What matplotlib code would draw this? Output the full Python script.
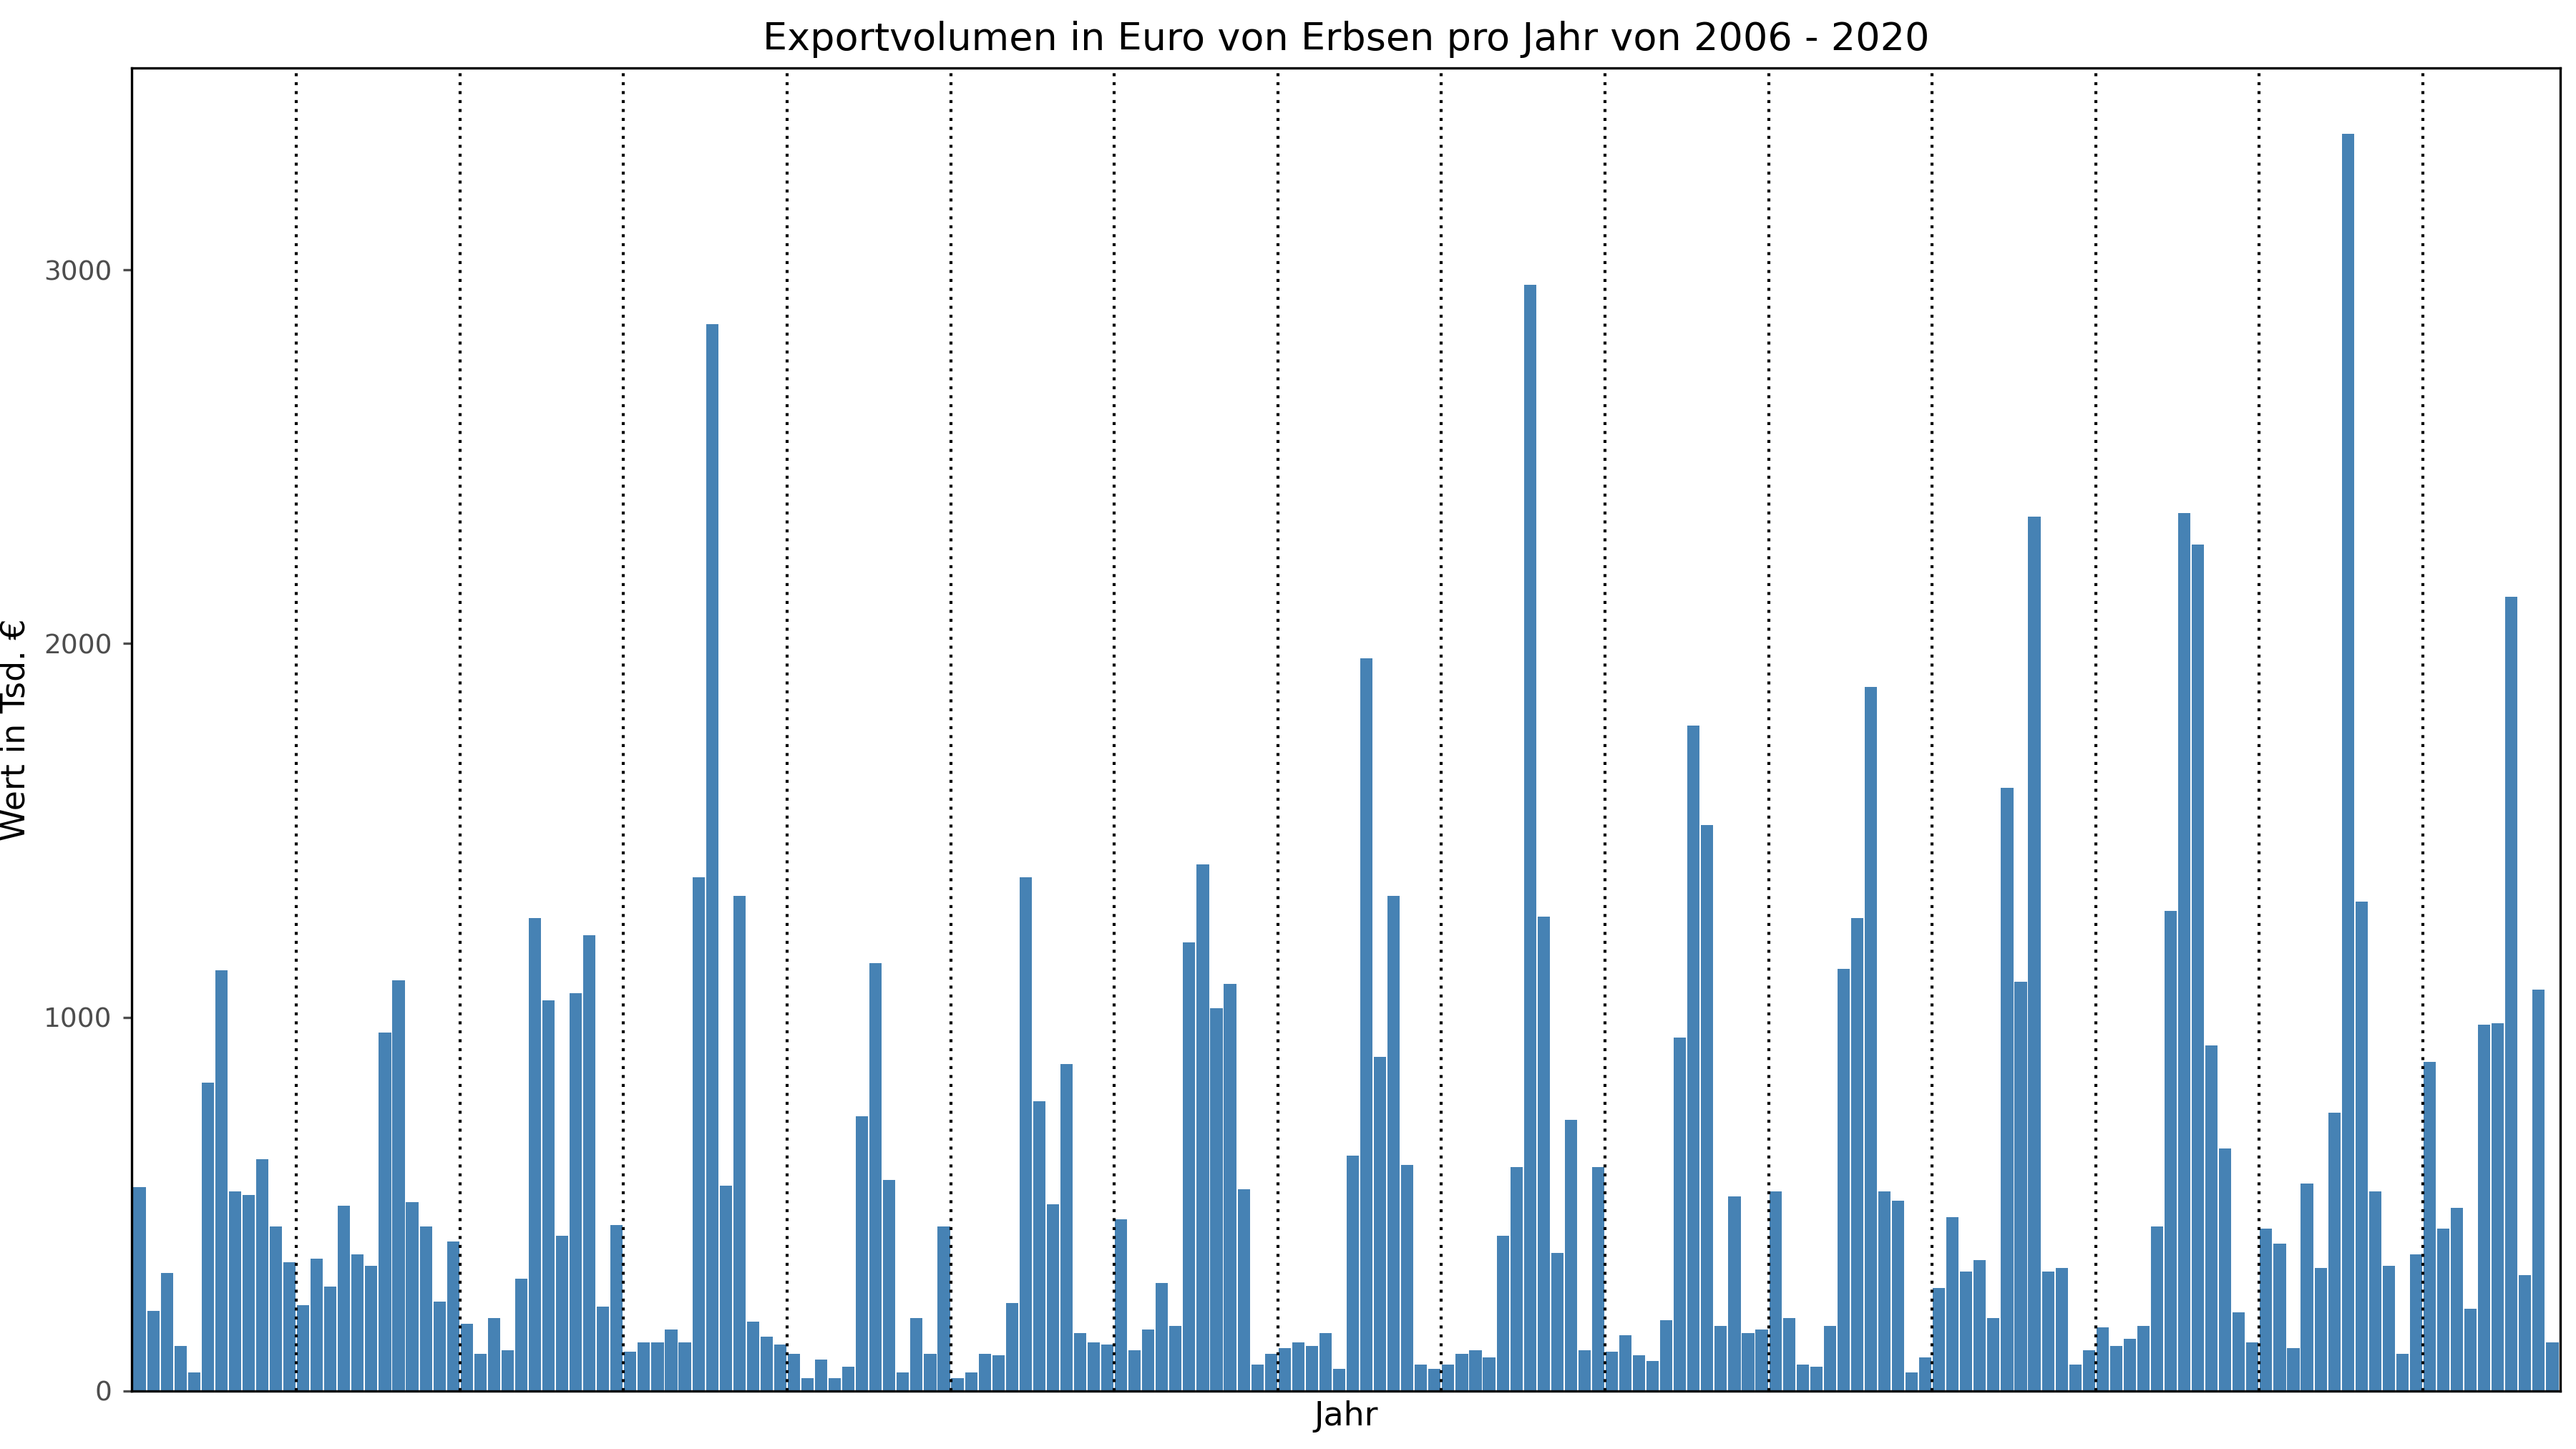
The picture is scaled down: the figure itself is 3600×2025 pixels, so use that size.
import numpy as np
import matplotlib.pyplot as plt

# monthly export values in Tsd. EUR, 2006 - 2020
years = list(range(2006, 2021))
values = {
    2006: [545, 215, 315, 120, 50, 825, 1125, 535, 525, 620, 440, 345],
    2007: [230, 355, 280, 495, 365, 335, 960, 1100, 505, 440, 240, 400],
    2008: [180, 100, 195, 110, 300, 1265, 1045, 415, 1065, 1220, 225, 445],
    2009: [105, 130, 130, 165, 130, 1375, 2855, 550, 1325, 185, 145, 125],
    2010: [100, 35, 85, 35, 65, 735, 1145, 565, 50, 195, 100, 440],
    2011: [35, 50, 100, 95, 235, 1375, 775, 500, 875, 155, 130, 125],
    2012: [460, 110, 165, 290, 175, 1200, 1410, 1025, 1090, 540, 70, 100],
    2013: [115, 130, 120, 155, 60, 630, 1960, 895, 1325, 605, 70, 60],
    2014: [70, 100, 110, 90, 415, 600, 2960, 1270, 370, 725, 110, 600],
    2015: [105, 150, 95, 80, 190, 945, 1780, 1515, 175, 520, 155, 165],
    2016: [535, 195, 70, 65, 175, 1130, 1265, 1885, 535, 510, 50, 90],
    2017: [275, 465, 320, 350, 195, 1615, 1095, 2340, 320, 330, 70, 110],
    2018: [170, 120, 140, 175, 440, 1285, 2350, 2265, 925, 650, 210, 130],
    2019: [435, 395, 115, 555, 330, 745, 3365, 1310, 535, 335, 100, 365],
    2020: [880, 435, 490, 220, 980, 985, 2125, 310, 1075, 130],
}

all_vals = [v for y in years for v in values[y]]
x = np.arange(1, len(all_vals) + 1)

fig, ax = plt.subplots(figsize=(12, 6.75), dpi=300)
ax.bar(x, all_vals, width=0.9, color="steelblue")

# dotted separators between years
pos = 0
for y in years[:-1]:
    pos += len(values[y])
    ax.axvline(pos + 0.5, color="black", linestyle=(0, (1, 2)), linewidth=1)

ax.set_xlim(0.4, len(all_vals) + 0.6)
ax.set_ylim(0, 3540)
ax.set_yticks([0, 1000, 2000, 3000])
ax.set_xticks([])
ax.tick_params(axis="y", labelsize=9, colors="#4d4d4d", length=3)
ax.set_xlabel("Jahr", fontsize=11, labelpad=3)
ax.set_ylabel("Wert in Tsd. €", fontsize=11)
ax.set_title("Exportvolumen in Euro von Erbsen pro Jahr von 2006 - 2020", fontsize=13)
for s in ax.spines.values():
    s.set_linewidth(0.8)

plt.subplots_adjust(left=0.051, right=0.994, top=0.953, bottom=0.04)
plt.savefig("out.png")
